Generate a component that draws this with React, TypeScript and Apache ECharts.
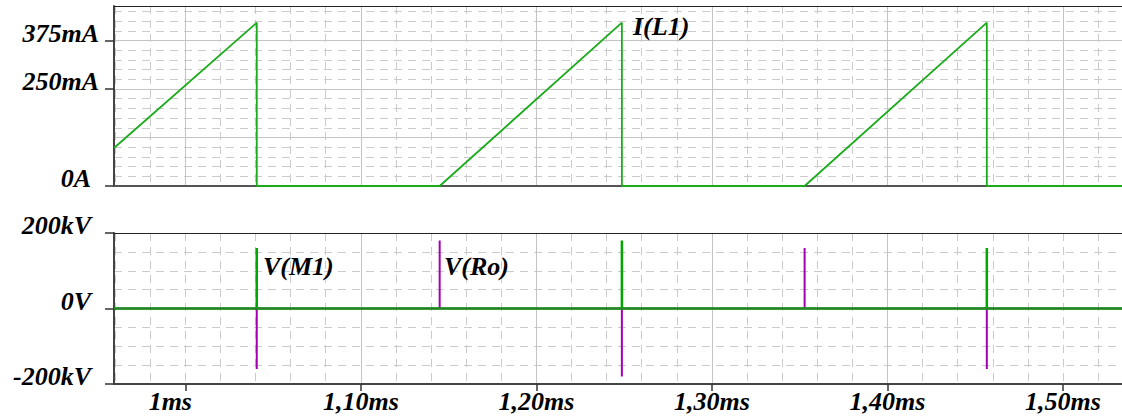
import React, { useEffect, useRef } from 'react';
import * as echarts from 'echarts';

// ---- data (time in ms) ----
const timeStart = 0.95938;
const timeEnd = 1.53361;

const iL1Time = [0.95938, 1.0407, 1.0407, 1.1449, 1.2487, 1.2487, 1.3528, 1.4566, 1.4566, 1.53361];
const iL1Values = [98, 421, 0, 0, 421, 0, 0, 421, 0, 0]; // mA

const vM1Time = [0.95938, 1.0407, 1.0407, 1.0407, 1.2487, 1.2487, 1.2487, 1.4566, 1.4566, 1.4566, 1.53361];
const vM1Values = [0, 0, 160, 0, 0, 180, 0, 0, 160, 0, 0]; // kV

const vRoTime = [
  0.95938, 1.0407, 1.0407, 1.0407, 1.1449, 1.1449, 1.1449, 1.2487, 1.2487, 1.2487,
  1.3528, 1.3528, 1.3528, 1.4566, 1.4566, 1.4566, 1.53361,
];
const vRoValues = [0, 0, -160, 0, 0, 180, 0, 0, -180, 0, 0, 160, 0, 0, -160, 0, 0]; // kV

const xTickValues = [1.0, 1.1, 1.2, 1.3, 1.4, 1.5];
const xTickLabels = ['1ms', '1,10ms', '1,20ms', '1,30ms', '1,40ms', '1,50ms'];

const currentTickValues = [0, 250, 375];
const currentTickLabels = ['0A', '250mA', '375mA'];

const voltTickValues = [-200, 0, 200];
const voltTickLabels = ['-200kV', '0V', '200kV'];

const traceNames = ['I(L1)', 'V(Ro)', 'V(M1)'];

// ---- styles ----
const FONT = "'Liberation Serif', 'Times New Roman', serif";
const labelFont = {
  fontFamily: FONT,
  fontSize: 26,
  fontWeight: 'bold' as const,
  fontStyle: 'italic' as const,
  color: '#000',
};
const majorLine = { color: '#c4c4c4', width: 1 };
const minorLine = { color: '#cbcbcb', width: 1, type: [8, 6] as number[] };
const hidden = {
  axisTick: { show: false },
  axisLabel: { show: false },
};

function zip(xs: number[], ys: number[]) {
  return xs.map((x, i) => [x, ys[i]]);
}

export default function App() {
  const ref = useRef<HTMLDivElement>(null);

  useEffect(() => {
    if (!ref.current) return;
    const chart = echarts.init(ref.current, undefined, { renderer: 'svg' });

    const yLabelFormatter = (labels: string[], values: number[], wide: string[]) => (v: number) => {
      const idx = values.findIndex((t) => Math.abs(t - v) < 1e-6);
      if (idx < 0) return '';
      const txt = labels[idx];
      return wide.includes(txt) ? `{a|${txt}}` : `{b|${txt}}`;
    };
    const yRich = {
      a: { ...labelFont, lineHeight: 15 },
      b: { ...labelFont, lineHeight: 15, padding: [0, 8, 0, 0] },
    };
    const topBorder = { show: true, onZero: false, lineStyle: { color: '#222', width: 1.2 } };

    const option: any = {
      animation: false,
      backgroundColor: '#fff',
      grid: [
        { left: 114, top: 6, right: 0, height: 180, show: false },
        { left: 114, top: 233, right: 0, height: 151, show: false },
      ],
      xAxis: [
        // 0: top minor (+ top border)
        {
          type: 'value', gridIndex: 0, position: 'top', min: timeStart, max: timeEnd,
          minInterval: 0.02, maxInterval: 0.02, axisLine: topBorder, ...hidden,
          splitLine: { show: true, showMinLine: false, showMaxLine: false, lineStyle: minorLine },
        },
        // 1: top major
        {
          type: 'value', gridIndex: 0, position: 'bottom', min: timeStart, max: timeEnd,
          minInterval: 0.1, maxInterval: 0.1,
          axisLine: { show: true, onZero: false, lineStyle: { color: '#555', width: 2 } },
          axisTick: { show: false }, axisLabel: { show: false },
          splitLine: { show: true, showMinLine: false, showMaxLine: false, lineStyle: majorLine },
        },
        // 2: bottom minor (+ top border)
        {
          type: 'value', gridIndex: 1, position: 'top', min: timeStart, max: timeEnd,
          minInterval: 0.02, maxInterval: 0.02, axisLine: topBorder, ...hidden,
          splitLine: { show: true, showMinLine: false, showMaxLine: false, lineStyle: minorLine },
        },
        // 3: bottom major with labels
        {
          type: 'value', gridIndex: 1, position: 'bottom', min: timeStart, max: timeEnd,
          minInterval: 0.1, maxInterval: 0.1,
          axisLine: { show: true, onZero: false, lineStyle: { color: '#444', width: 2 } },
          axisTick: { show: true, customValues: xTickValues, length: 7, lineStyle: { color: '#333', width: 1.5 } },
          axisLabel: {
            show: true, customValues: xTickValues, margin: 4,
            formatter: (v: number) => {
              const idx = xTickValues.findIndex((t) => Math.abs(t - v) < 1e-6);
              if (idx < 0) return '';
              const txt = xTickLabels[idx];
              return txt.length < 5 ? `{s|${txt}}` : `{n|${txt}}`;
            },
            rich: {
              n: { ...labelFont, lineHeight: 26 },
              s: { ...labelFont, lineHeight: 26, padding: [0, 30, 0, 0] },
            },
          },
          splitLine: { show: true, showMinLine: false, showMaxLine: false, lineStyle: majorLine },
        },
      ],
      yAxis: [
        // 0: top minor
        {
          type: 'value', gridIndex: 0, position: 'left', min: 0, max: 464, interval: 25,
          axisLine: { show: false }, ...hidden,
          splitLine: { show: true, showMinLine: false, showMaxLine: false, lineStyle: minorLine },
        },
        // 1: top major lines
        {
          type: 'value', gridIndex: 0, position: 'left', min: 0, max: 464, interval: 125,
          axisLine: { show: false }, ...hidden,
          splitLine: { show: true, showMinLine: false, showMaxLine: false, lineStyle: majorLine },
        },
        // 2: top labels / ticks
        {
          type: 'value', gridIndex: 0, position: 'left', min: 0, max: 464, interval: 125,
          axisLine: { show: true, onZero: false, lineStyle: { color: '#444', width: 2 } },
          axisTick: { show: true, customValues: currentTickValues, length: 9, lineStyle: { color: '#333', width: 1.5 } },
          axisLabel: {
            show: true, customValues: currentTickValues, margin: 15, verticalAlign: 'bottom',
            formatter: yLabelFormatter(currentTickLabels, currentTickValues, ['250mA', '375mA']),
            rich: yRich,
          },
          splitLine: { show: false },
        },
        // 3: bottom minor
        {
          type: 'value', gridIndex: 1, position: 'left', min: -200, max: 200, interval: 50,
          axisLine: { show: false }, ...hidden,
          splitLine: { show: true, showMinLine: false, showMaxLine: false, lineStyle: minorLine },
        },
        // 4: bottom labels / major
        {
          type: 'value', gridIndex: 1, position: 'left', min: -200, max: 200, interval: 200,
          axisLine: { show: true, onZero: false, lineStyle: { color: '#444', width: 2 } },
          axisTick: { show: true, length: 9, lineStyle: { color: '#333', width: 1.5 } },
          axisLabel: {
            show: true, margin: 15, verticalAlign: 'bottom',
            formatter: yLabelFormatter(voltTickLabels, voltTickValues, []),
            rich: yRich,
          },
          splitLine: { show: true, showMinLine: false, showMaxLine: false, lineStyle: majorLine },
        },
      ],
      visualMap: [
        {
          type: 'piecewise', show: false, seriesIndex: 2, dimension: 1,
          pieces: [
            { lt: -1, color: '#00a800' },
            { gte: -1, lte: 1, color: '#2e7a30' },
            { gt: 1, color: '#00a800' },
          ],
        },
      ],
      series: [
        {
          name: traceNames[0], type: 'line', xAxisIndex: 1, yAxisIndex: 2,
          data: zip(iL1Time, iL1Values), showSymbol: false, z: 5,
          lineStyle: { color: '#1aab1a', width: 1.8 }, itemStyle: { color: '#1aab1a' },
        },
        {
          name: traceNames[1], type: 'line', xAxisIndex: 3, yAxisIndex: 4,
          data: zip(vRoTime, vRoValues), showSymbol: false, z: 5,
          lineStyle: { color: '#a300b0', width: 2 }, itemStyle: { color: '#a300b0' },
        },
        {
          name: traceNames[2], type: 'line', xAxisIndex: 3, yAxisIndex: 4,
          data: zip(vM1Time, vM1Values), showSymbol: false, z: 6,
          lineStyle: { width: 2.5 },
        },
      ],
      graphic: [
        {
          type: 'text', x: 633, y: 26.5, z: 10,
          style: { text: traceNames[0], font: `italic bold 26px ${FONT}`, fill: '#000', verticalAlign: 'middle', textVerticalAlign: 'middle' },
        },
        {
          type: 'text', x: 263, y: 266.5, z: 10,
          style: { text: traceNames[2], font: `italic bold 26px ${FONT}`, fill: '#000', verticalAlign: 'middle', textVerticalAlign: 'middle' },
        },
        {
          type: 'text', x: 444, y: 266.5, z: 10,
          style: { text: traceNames[1], font: `italic bold 26px ${FONT}`, fill: '#000', verticalAlign: 'middle', textVerticalAlign: 'middle' },
        },
      ],
    };

    chart.setOption(option);
    return () => chart.dispose();
  }, []);

  return (
    <div
      ref={ref}
      style={{ position: 'absolute', left: 0, top: 0, width: 1122, height: 416 }}
    />
  );
}
